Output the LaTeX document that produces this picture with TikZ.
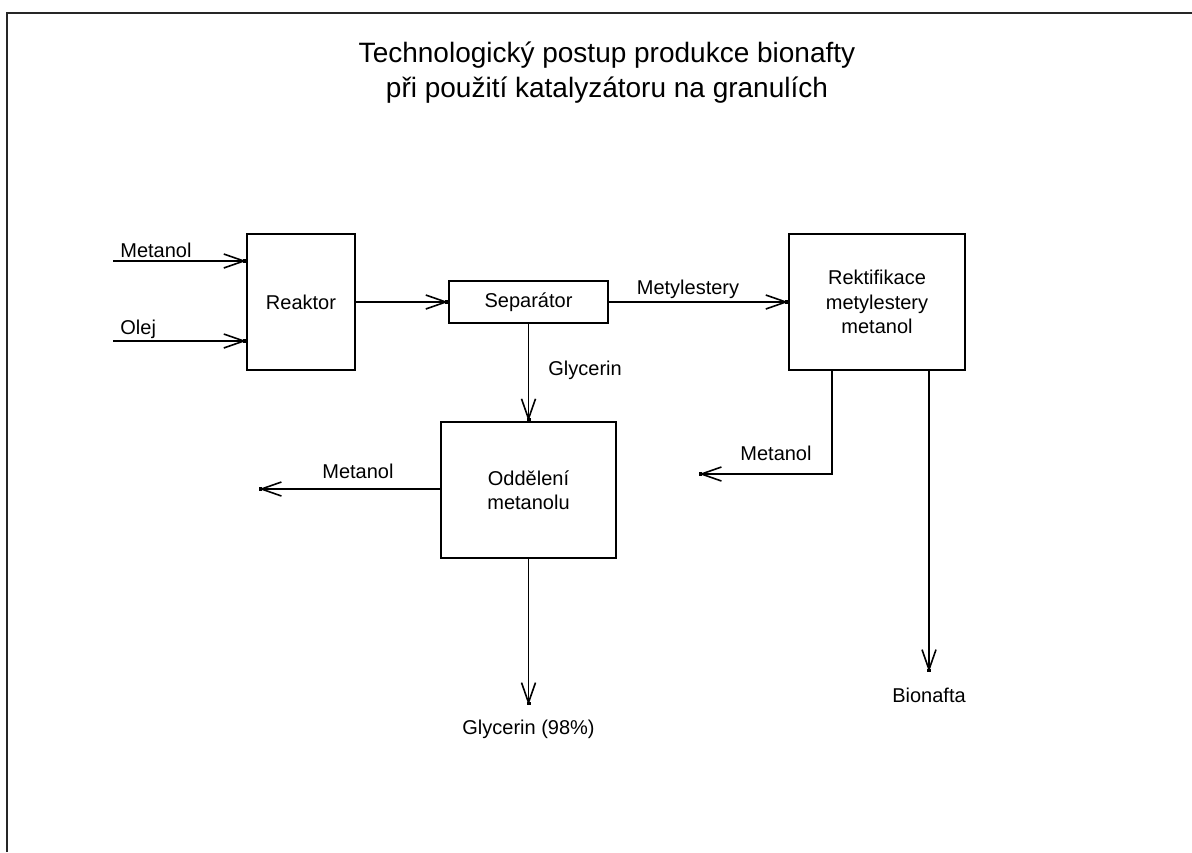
\documentclass[tikz,border=0pt]{standalone}
\usepackage{fontspec}
\setmainfont{Liberation Sans}
\usetikzlibrary{arrows.meta,positioning}

\begin{document}
\begin{tikzpicture}[
    x=0.5pt, y=-0.5pt,
    font=\fontsize{10}{12.25}\selectfont,
    >={Straight Barb[length=10pt,width=7pt,sep=-1.5pt] Square[length=1.5pt,width=2pt]},
    unit/.style={draw, line width=0.8pt, align=center, inner sep=2pt},
    flow/.style={->, line width=0.8pt},
    lbl/.style={inner sep=0pt},
    title/.style={font=\fontsize{14}{17.5}\selectfont, align=center},
]
\useasboundingbox (0,0) rectangle (1192,852);

% frame (only top and left edge visible)
\draw[line width=1.3pt, black!85] (7,852) -- (7,13) -- (1192,13);

% =====================================================================
% title
% =====================================================================
\node[title, anchor=base] (title) at (607,97)
    {Technologický postup produkce bionafty\\při použití katalyzátoru na granulích};

% =====================================================================
% process units
% =====================================================================
\node[unit, minimum width=54pt, minimum height=68pt] (reaktor) at (301,302) {Reaktor};
\node[unit, minimum width=79.5pt, minimum height=21pt] (separator) at (528.5,302) {Separátor};
\node[unit, minimum width=88pt, minimum height=68pt] (rektif) at (877,302)
    {Rektifikace\\metylestery\\metanol};
\node[unit, minimum width=87.5pt, minimum height=68pt] (oddeleni) at (528.5,490)
    {Oddělení\\metanolu};

% feeds into the reactor
\coordinate (metin) at (113,261);
\coordinate (olejin) at (113,341);
\draw[flow] (metin) -- (metin -| reaktor.west);
\draw[flow] (olejin) -- (olejin -| reaktor.west);
\node[lbl, anchor=base west] (lmetin) at (120,257) {Metanol};
\node[lbl, anchor=base west] (lolej) at (120,334) {Olej};

% main line
\draw[flow] (reaktor.east) -- (separator.west);
\draw[flow] (separator.east) -- (rektif.west);
\node[lbl, anchor=base] (lmest) at (688,294) {Metylestery};
\draw[flow] (separator.south) -- (oddeleni.north);
\node[lbl, anchor=base west] (lgly) at (548,375) {Glycerin};

% =====================================================================
% outlets
% =====================================================================
\coordinate (metout1) at (259,489);
\draw[flow] (oddeleni.west |- metout1) -- (metout1);
\node[lbl, anchor=base west] (lmet1) at (322,478) {Metanol};

\coordinate (glyend) at (528.5,705);
\draw[flow] (oddeleni.south) -- (glyend);
\node[below=4pt of glyend] (lgly98) {Glycerin (98\%)};

\coordinate (metout2) at (699,474);
\draw[flow] ([xshift=-22.5pt]rektif.south) |- (metout2);
\node[lbl, anchor=base west] (lmet2) at (740,460) {Metanol};

\coordinate (bioend) at (929,672);
\draw[flow] ([xshift=26pt]rektif.south) -- (bioend);
\node[below=4.5pt of bioend] (lbio) {Bionafta};

\end{tikzpicture}
\end{document}
